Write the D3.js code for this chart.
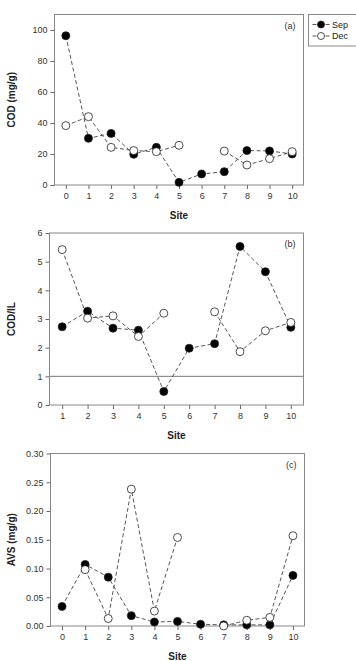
<!DOCTYPE html>
<meta charset="utf-8">
<style>
body { margin: 0; background: #fff; }
svg { display: block; font-family: "Liberation Sans", Arial, sans-serif; }
.tick text { fill: #333; font-size: 9px; }
.tick line { stroke: #666; }
.domain { display: none; }
</style>
<body>
<div id="chart"></div>
<script src="https://d3js.org/d3.v7.min.js"></script>
<script>
// site numbers
var sitesA = [0, 1, 2, 3, 4, 5, 6, 7, 8, 9, 10]
var sitesB = [1, 2, 3, 4, 5, 6, 7, 8, 9, 10]
var sitesC = [0, 1, 2, 3, 4, 5, 6, 7, 8, 9, 10]

// (a) COD mg/g
var codSep = [96.3, 30.1, 33.3, 19.8, 24.3, 1.7, 7.1, 8.6, 22.2, 22.0, 20.0]
var codDec = [38.3, 44.1, 24.3, 22.2, 21.5, 25.6, null, 21.9, 12.9, 17.0, 21.5]

// (b) COD/IL
var ratioSep = [2.73, 3.27, 2.68, 2.61, 0.47, 1.98, 2.14, 5.53, 4.65, 2.71]
var ratioDec = [5.42, 3.03, 3.11, 2.39, 3.20, null, 3.25, 1.86, 2.59, 2.88]

// (c) AVS mg/g
var avsSep = [0.034, 0.107, 0.085, 0.018, 0.007, 0.008, 0.003, 0.002, 0.002, 0.002, 0.088]
var avsDec = [null, 0.098, 0.013, 0.238, 0.026, 0.154, null, 0.0, 0.010, 0.015, 0.157]

var legendLabels = ['Sep', 'Dec']

var svg = d3.select('#chart').append('svg')
    .attr('width', 356)
    .attr('height', 661)

function panel(opt) {
    var left = opt.left, top = opt.top, width = opt.width, height = opt.height

    var x = d3.scaleLinear().domain(opt.xDomain).range([0, width])
    var y = d3.scaleLinear().domain(opt.yDomain).range([height, 0])

    var g = svg.append('g')
        .attr('transform', 'translate(' + left + ',' + top + ')')

    g.append('g')
        .attr('transform', 'translate(0,' + height + ')')
        .call(d3.axisBottom(x).tickValues(opt.sites).tickFormat(d3.format('d')).tickSize(4).tickPadding(4))
    g.append('g')
        .call(d3.axisLeft(y).tickValues(opt.yTicks).tickFormat(opt.yFormat).tickSize(4).tickPadding(3))

    if (opt.refLine != null) {
        g.append('line')
            .attr('x1', 0).attr('x2', width)
            .attr('y1', y(opt.refLine)).attr('y2', y(opt.refLine))
            .style('stroke', '#777').style('stroke-width', 1)
    }

    g.append('rect')
        .attr('width', width).attr('height', height)
        .style('fill', 'none').style('stroke', '#888').style('stroke-width', 1)

    var line = d3.line()
        .defined(function (d) { return d[1] != null })
        .x(function (d) { return x(d[0]) })
        .y(function (d) { return y(d[1]) })

    var series = [
        { values: opt.sep, fill: '#000' },
        { values: opt.dec, fill: '#fff' }
    ]

    series.forEach(function (s) {
        var pts = opt.sites.map(function (site, i) { return [site, s.values[i]] })
        g.append('path')
            .datum(pts)
            .attr('d', line)
            .style('fill', 'none')
            .style('stroke', '#444')
            .style('stroke-width', 0.9)
            .style('stroke-dasharray', '4,2.5')
    })

    series.forEach(function (s) {
        var pts = opt.sites.map(function (site, i) { return [site, s.values[i]] })
            .filter(function (d) { return d[1] != null })
        g.selectAll(null)
            .data(pts)
            .enter()
            .append('circle')
            .attr('cx', function (d) { return x(d[0]) })
            .attr('cy', function (d) { return y(d[1]) })
            .attr('r', 4)
            .style('fill', s.fill)
            .style('stroke', '#222')
            .style('stroke-width', 0.8)
    })

    g.append('text')
        .attr('x', width - 8)
        .attr('y', opt.tagY)
        .attr('text-anchor', 'end')
        .style('font-size', '9px')
        .style('fill', '#333')
        .text(opt.tag)

    g.append('text')
        .attr('x', width / 2)
        .attr('y', height + 33.5)
        .attr('text-anchor', 'middle')
        .style('font-size', '10px')
        .style('font-weight', 'bold')
        .style('fill', '#222')
        .text('Site')

    g.append('text')
        .attr('transform', 'rotate(-90)')
        .attr('x', -height / 2)
        .attr('y', opt.titleX - left)
        .attr('text-anchor', 'middle')
        .style('font-size', '10px')
        .style('font-weight', 'bold')
        .style('fill', '#222')
        .text(opt.title)
}

panel({
    left: 54.5, top: 14.5, width: 249, height: 170.5,
    xDomain: [-0.5, 10.5], yDomain: [0, 110],
    sites: sitesA, yTicks: [0, 20, 40, 60, 80, 100], yFormat: d3.format('d'),
    sep: codSep, dec: codDec, tag: '(a)', tagY: 14,
    title: 'COD (mg/g)', titleX: 15
})

panel({
    left: 49.5, top: 233, width: 254, height: 172,
    xDomain: [0.5, 10.5], yDomain: [0, 6],
    sites: sitesB, yTicks: [0, 1, 2, 3, 4, 5, 6], yFormat: d3.format('d'),
    sep: ratioSep, dec: ratioDec, tag: '(b)', tagY: 14, refLine: 1,
    title: 'COD/IL', titleX: 15
})

panel({
    left: 50.5, top: 453.5, width: 254, height: 172.5,
    xDomain: [-0.5, 10.5], yDomain: [0, 0.30],
    sites: sitesC, yTicks: [0, 0.05, 0.10, 0.15, 0.20, 0.25, 0.30], yFormat: d3.format('.2f'),
    sep: avsSep, dec: avsDec, tag: '(c)', tagY: 14,
    title: 'AVS (mg/g)', titleX: 15
})

// legend
var lg = svg.append('g').attr('transform', 'translate(308.5,14.5)')
lg.append('rect')
    .attr('width', 70).attr('height', 31.5)
    .style('fill', '#fff').style('stroke', '#888').style('stroke-width', 1)
legendLabels.forEach(function (label, i) {
    var yy = 10 + i * 11.5
    lg.append('line')
        .attr('x1', 4).attr('x2', 21).attr('y1', yy).attr('y2', yy)
        .style('stroke', '#444').style('stroke-width', 0.9).style('stroke-dasharray', '4,2.5')
    lg.append('circle')
        .attr('cx', 12.5).attr('cy', yy).attr('r', 3.5)
        .style('fill', i === 0 ? '#000' : '#fff')
        .style('stroke', '#222').style('stroke-width', 0.8)
    lg.append('text')
        .attr('x', 23.5).attr('y', yy + 3.2)
        .style('font-size', '9px').style('fill', '#222')
        .text(label)
})
</script>
</body>
